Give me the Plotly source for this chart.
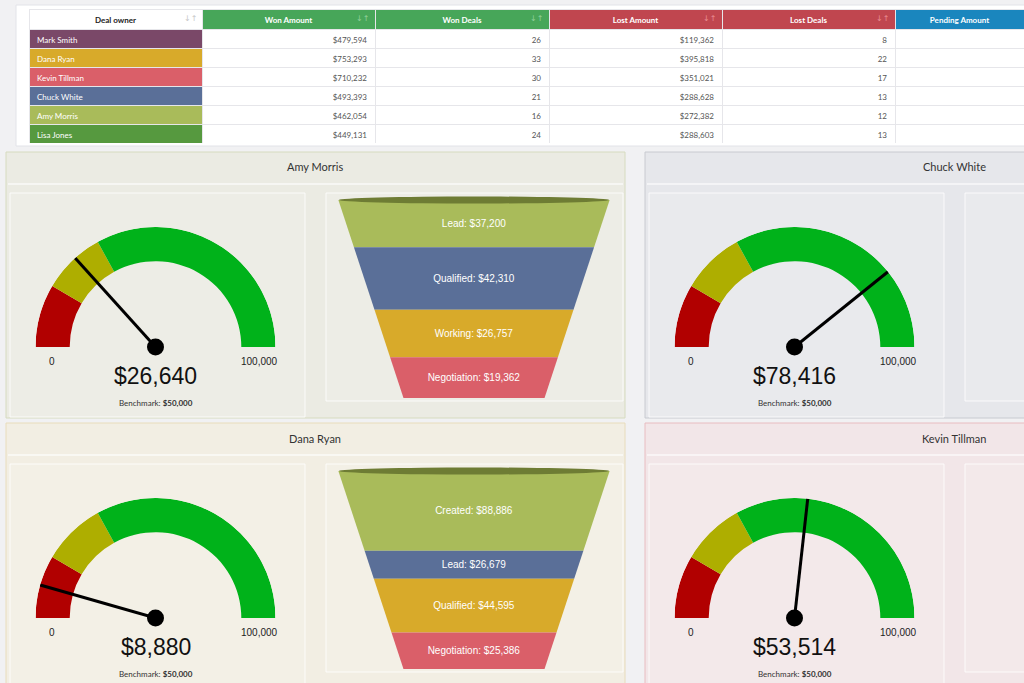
import plotly.graph_objects as go

# ---------------- data ----------------
owners = ["Mark Smith", "Dana Ryan", "Kevin Tillman", "Chuck White", "Amy Morris", "Lisa Jones"]
won_amount = [479594, 753293, 710232, 493393, 462054, 449131]
won_deals = [26, 33, 30, 21, 16, 24]
lost_amount = [119362, 395818, 351021, 288628, 272382, 288603]
lost_deals = [8, 22, 17, 13, 12, 13]
pending_amount = ["", "", "", "", "", ""]
table_headers = ["Deal owner", "Won Amount", "Won Deals", "Lost Amount", "Lost Deals", "Pending Amount"]

gauge_owners = ["Amy Morris", "Chuck White", "Dana Ryan", "Kevin Tillman"]
gauge_values = [26640, 78416, 8880, 53514]
gauge_min = 0
gauge_max = 100000
benchmark = 50000
band_edges = [0, 17000, 34000, 100000]

amy_stages = ["Lead", "Qualified", "Working", "Negotiation"]
amy_values = [37200, 42310, 26757, 19362]
dana_stages = ["Created", "Lead", "Qualified", "Negotiation"]
dana_values = [88886, 26679, 44595, 25386]

# ---------------- styles ----------------
W, H = 1024, 683
def px(x): return x / W
def py(y): return 1 - y / H

owner_colors = ["#7a4868", "#d8aa2a", "#da5f69", "#5a6f98", "#a9bb5a", "#56993f"]
band_colors = ["#b10000", "#aeae00", "#00b21a"]
funnel_colors = ["#a9bb5a", "#5a6f98", "#d8aa2a", "#da5f69"]
funnel_rim = "#6e7c34"
header_fills = ["#ffffff", "#47a659", "#47a659", "#c0464f", "#c0464f", "#1a86be"]
header_font_colors = ["#222222", "#ffffff", "#ffffff", "#ffffff", "#ffffff", "#ffffff"]

panels = {
    "Amy Morris":    dict(x=6,   y=152, w=619, fill="#ebebe3", border="#d6dbbf"),
    "Chuck White":   dict(x=645, y=152, w=640, fill="#e6e7eb", border="#c8cad0"),
    "Dana Ryan":     dict(x=6,   y=423, w=619, fill="#f2eee3", border="#e8dcbb"),
    "Kevin Tillman": dict(x=645, y=423, w=640, fill="#f2e6e8", border="#e8bcc0"),
}
funnels = {"Amy Morris": (amy_stages, amy_values), "Dana Ryan": (dana_stages, dana_values)}


def label(x, y, text, size, color, family, **kw):
    return dict(x=px(x), y=py(y), xref="paper", yref="paper", text=text, showarrow=False,
                xanchor="center", yanchor="middle", font=dict(size=size, color=color, family=family), **kw)


fig = go.Figure()
shapes = []
annotations = []

# table card
shapes.append(dict(type="rect", xref="paper", yref="paper", x0=px(16), x1=px(1030), y0=py(146), y1=py(5),
                   fillcolor="#ffffff", line=dict(color="#e2e3e8", width=1), layer="below"))

fig.add_trace(go.Table(
    domain=dict(x=[px(29), 1], y=[py(144), py(9)]),
    columnwidth=[173, 173, 174, 173, 173, 129],
    header=dict(values=table_headers, fill_color=header_fills,
                font=dict(color=header_font_colors, size=8, family="Lato", weight="bold"),
                align="center", height=20, line=dict(color="#e6e6ea", width=1)),
    cells=dict(values=[owners, [f"${v:,}" for v in won_amount], won_deals,
                       [f"${v:,}" for v in lost_amount], lost_deals, pending_amount],
               fill_color=[owner_colors] + [["#ffffff"] * 6] * 5,
               font=dict(color=["#ffffff", "#555555", "#555555", "#555555", "#555555", "#555555"],
                         size=8, family="Lato"),
               align=["left", "right", "right", "right", "right", "right"], height=19,
               line=dict(color="#e6e6ea", width=1)),
))

# sort icons
for xi, col in [(190, "#c8c8c8"), (362, "#8fd09a"), (536, "#8fd09a"), (709, "#ea8c92"), (882, "#ea8c92")]:
    annotations.append(label(xi, 18.5, "↓↑", 8, col, "DejaVu Sans"))


def deg(v):
    return (v - gauge_min) / (gauge_max - gauge_min) * 180.0


layout_polars = {}
for i, (name, val) in enumerate(zip(gauge_owners, gauge_values)):
    p = panels[name]
    x0, y0, pw = p["x"], p["y"], p["w"]
    # panel
    shapes.append(dict(type="rect", xref="paper", yref="paper", x0=px(x0), x1=px(x0 + pw), y0=py(y0 + 266),
                       y1=py(y0), fillcolor=p["fill"], line=dict(color=p["border"], width=1), layer="below"))
    shapes.append(dict(type="line", xref="paper", yref="paper", x0=px(x0 + 2), x1=px(x0 + pw - 2), y0=py(y0 + 32),
                       y1=py(y0 + 32), line=dict(color="rgba(255,255,255,0.75)", width=1.5), layer="below"))
    # inner boxes
    shapes.append(dict(type="rect", xref="paper", yref="paper", x0=px(x0 + 4), x1=px(x0 + 299), y0=py(y0 + 265),
                       y1=py(y0 + 41), fillcolor="rgba(255,255,255,0.12)",
                       line=dict(color="rgba(255,255,255,0.8)", width=1), layer="below"))
    shapes.append(dict(type="rect", xref="paper", yref="paper", x0=px(x0 + 320), x1=px(x0 + min(pw - 2, 640)),
                       y0=py(y0 + 249), y1=py(y0 + 41), fillcolor="rgba(255,255,255,0.12)",
                       line=dict(color="rgba(255,255,255,0.8)", width=1), layer="below"))
    # title
    annotations.append(label(x0 + 309, y0 + 15, name, 11, "#333333", "Lato"))

    cx, cy, R = x0 + 149.5, y0 + 195, 120
    sp = "polar" if i == 0 else f"polar{i + 1}"
    lo, hi = band_edges[:-1], band_edges[1:]
    fig.add_trace(go.Barpolar(
        r=[0.285] * 3, base=[0.715] * 3,
        theta=[deg((a + b) / 2) for a, b in zip(lo, hi)],
        width=[deg(b) - deg(a) for a, b in zip(lo, hi)],
        marker=dict(color=band_colors, line=dict(width=0)),
        subplot=sp, hoverinfo="skip", showlegend=False))
    fig.add_trace(go.Scatterpolar(r=[0, 1], theta=[deg(val), deg(val)], mode="lines",
                                  line=dict(color="#000000", width=3), subplot=sp, cliponaxis=False,
                                  hoverinfo="skip", showlegend=False))
    fig.add_trace(go.Scatterpolar(r=[0], theta=[deg(val)], mode="markers",
                                  marker=dict(size=17, color="#000000"), subplot=sp, cliponaxis=False,
                                  hoverinfo="skip", showlegend=False))
    layout_polars[sp] = dict(
        domain=dict(x=[px(cx - R), px(cx + R)], y=[py(cy), py(cy - R)]),
        sector=[0, 180], bgcolor="rgba(0,0,0,0)",
        radialaxis=dict(range=[0, 1], visible=False),
        angularaxis=dict(visible=False, direction="clockwise", rotation=180))

    # gauge labels
    annotations.append(label(cx - 103.5, cy + 14, f"{gauge_min:,}", 10, "#222222", "Liberation Sans"))
    annotations.append(label(cx + 103.5, cy + 14, f"{gauge_max:,}", 10, "#222222", "Liberation Sans"))
    annotations.append(label(cx, cy + 29, f"${val:,}", 23, "#111111", "Liberation Sans"))
    annotations.append(label(cx, cy + 56, f"Benchmark: <b>${benchmark:,}</b>", 8, "#333333", "Lato"))

    if name in funnels:
        stages, vals = funnels[name]
        fx0, fx1, fy0, fy1 = x0 + 332, x0 + 604, y0 + 246, y0 + 48
        fig.add_trace(go.Funnelarea(
            labels=stages, values=vals,
            domain=dict(x=[px(fx0), px(fx1)], y=[py(fy0), py(fy1)]),
            aspectratio=0.73, baseratio=0.52,
            marker=dict(colors=funnel_colors, line=dict(width=0)),
            texttemplate="%{label}: $%{value:,}", textposition="inside",
            insidetextfont=dict(color="#ffffff", size=10, family="Liberation Sans"),
            hoverinfo="skip", showlegend=False))
        # 3-D rim at the top of the funnel
        shapes.append(dict(type="circle", xref="paper", yref="paper", x0=px(fx0 + 1), x1=px(fx1 - 1),
                           y0=py(fy1 + 3.5), y1=py(fy1 - 3.5), fillcolor=funnel_rim,
                           line=dict(width=0), layer="above"))

fig.update_layout(
    width=W, height=H, margin=dict(l=0, r=0, t=0, b=0),
    paper_bgcolor="#f1f1f3", plot_bgcolor="#f1f1f3",
    showlegend=False, shapes=shapes, annotations=annotations,
    **layout_polars)

fig.write_html("out.html")
